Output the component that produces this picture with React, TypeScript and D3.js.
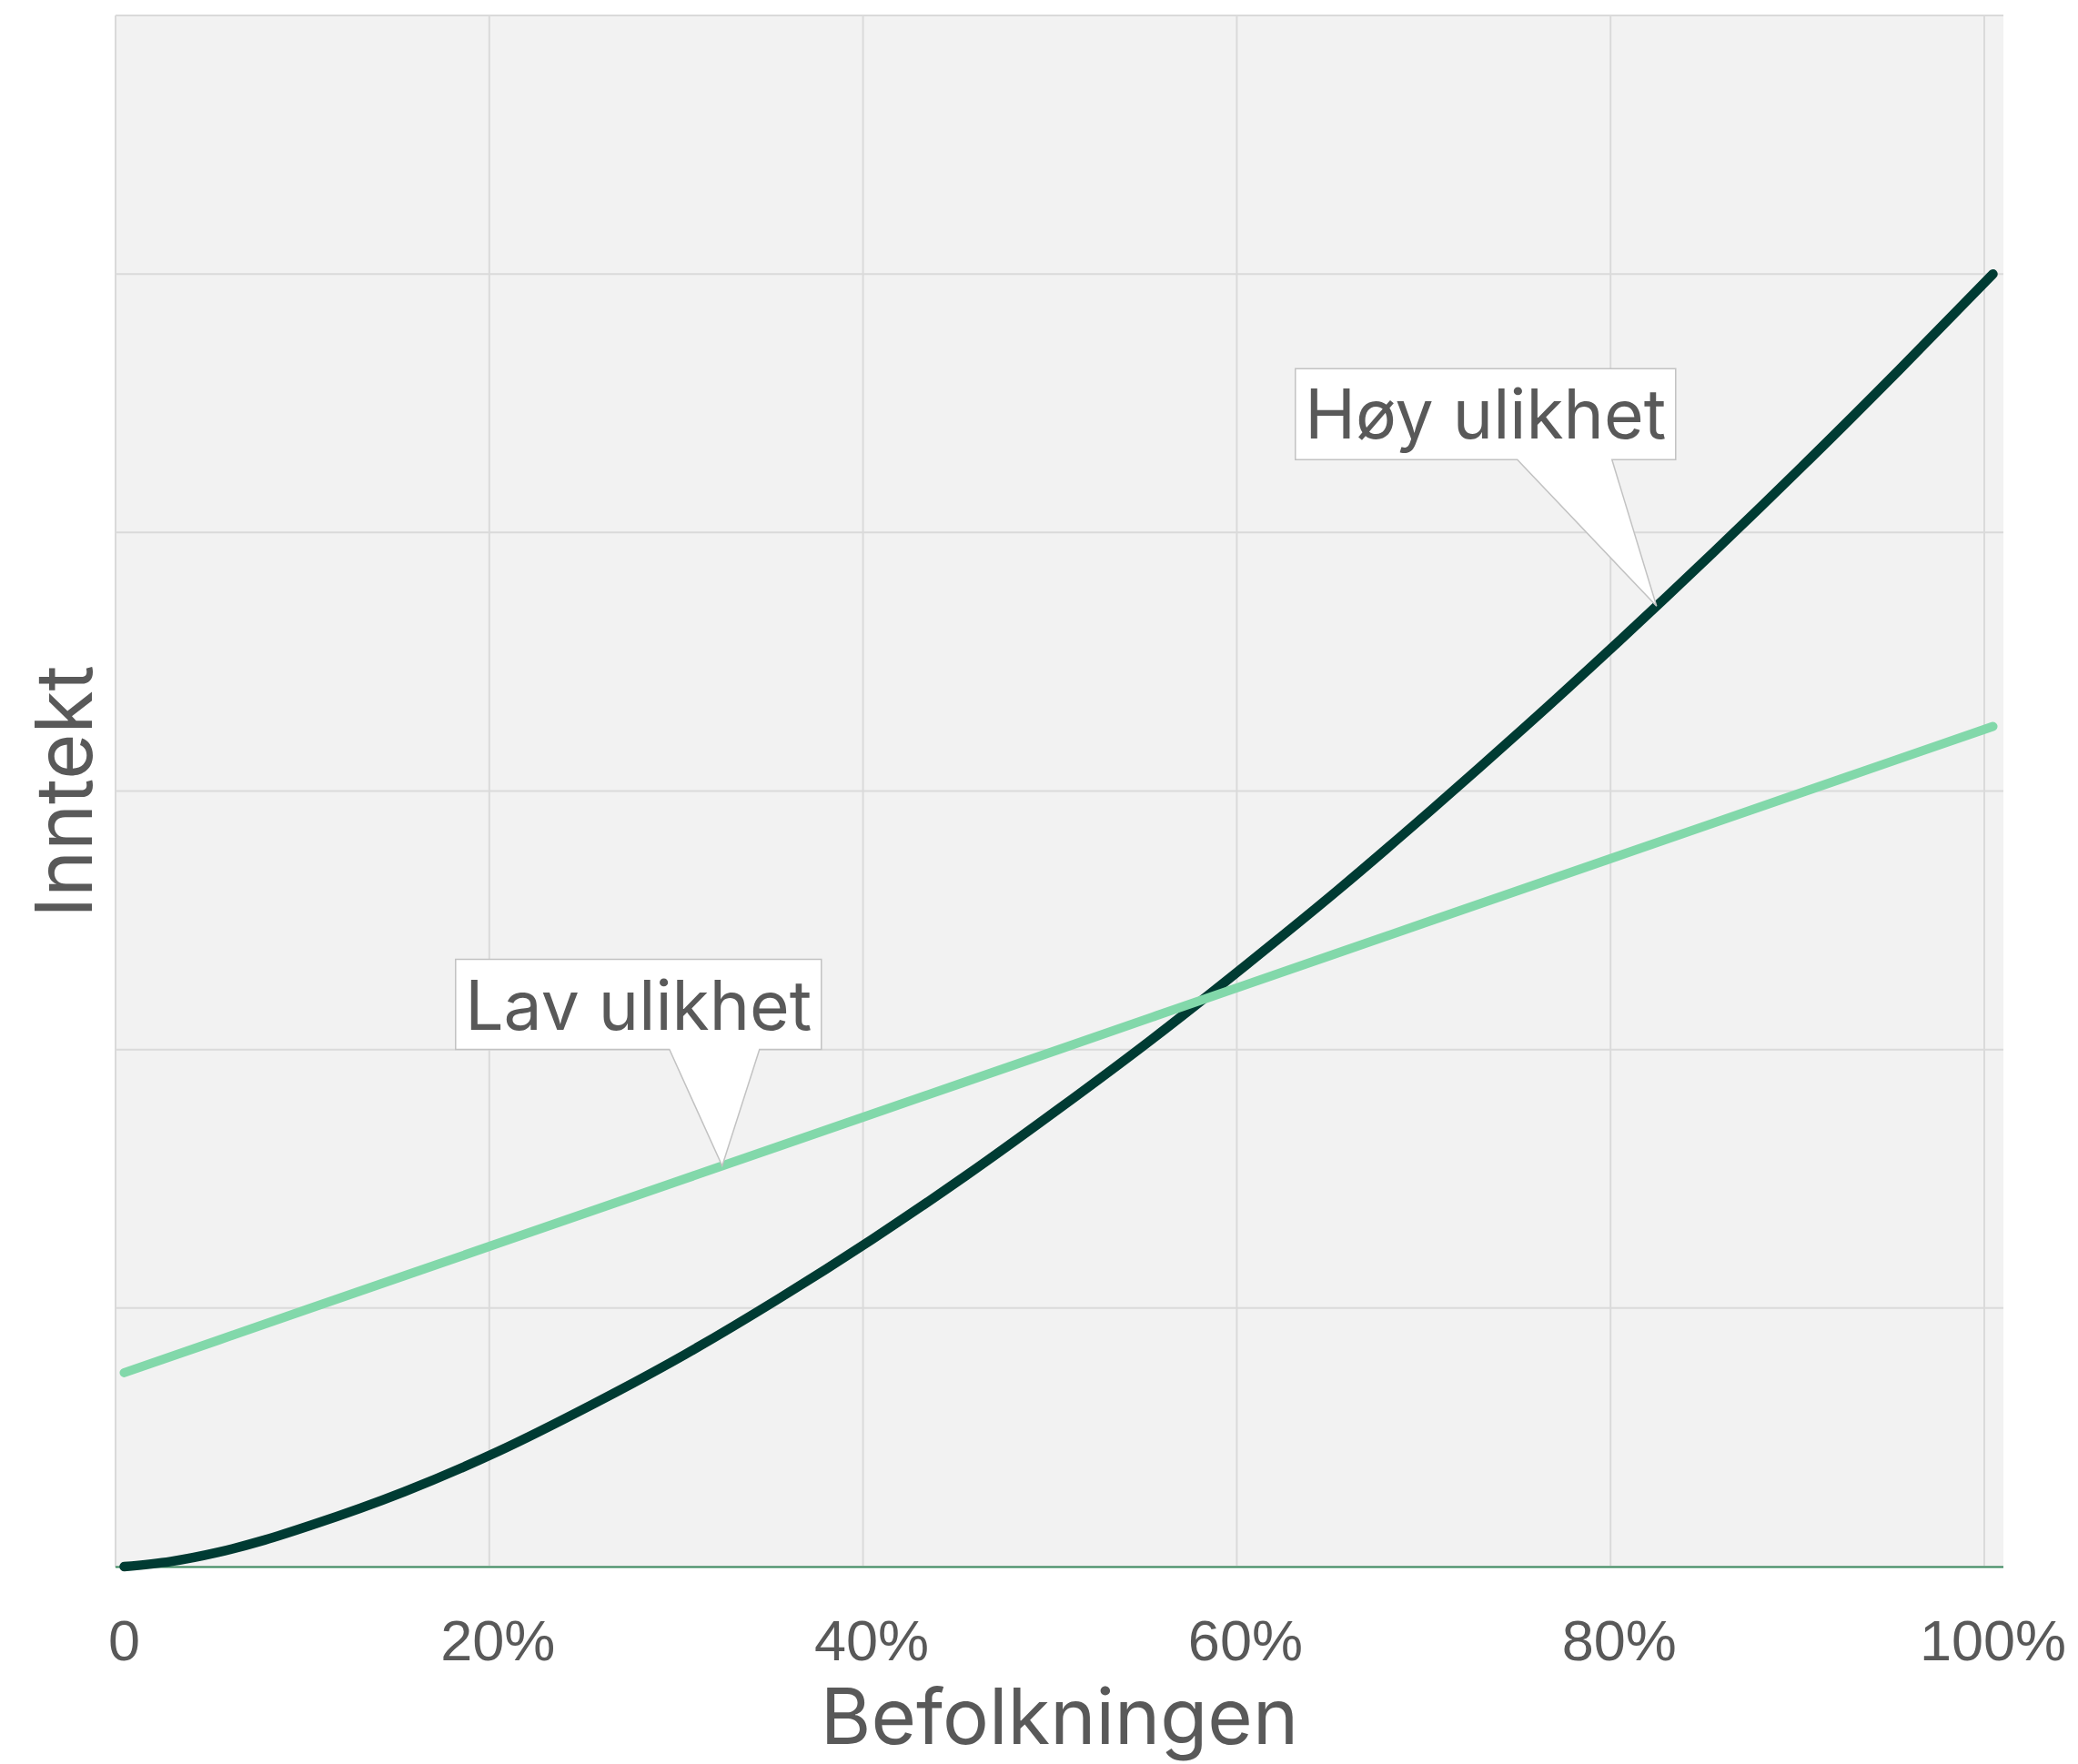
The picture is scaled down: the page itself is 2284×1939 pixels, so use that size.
import React from "react";
import * as d3 from "d3";

// Population share (%) and income values
const populationHigh = [0, 2.5, 5, 7.5, 10, 15, 20, 25, 30, 35, 40, 45, 50, 55, 60, 65, 70, 75, 80, 85, 90, 95, 100];
const incomeHigh = [0, 0.4, 1.1, 2.05, 3.2, 5.8, 8.9, 12.5, 16.4, 20.7, 25.3, 30.2, 35.4, 40.8, 46.5, 52.4, 58.6, 65.0, 71.6, 78.4, 85.4, 92.6, 100];
const populationLow = [0, 10, 20, 30, 40, 50, 60, 70, 80, 90, 100];
const incomeLow = [15, 20, 25, 30, 35, 40, 45, 50, 55, 60, 65];

const xTicks = [0, 20, 40, 60, 80, 100];
const xTickLabels = ["0", "20%", "40%", "60%", "80%", "100%"];
const yTicks = [0, 20, 40, 60, 80, 100, 120];

const annotationLabels = ["Lav ulikhet", "Høy ulikhet"];
const annotationX = [32, 82];
const annotationY = [31, 74.3];

const W = 2284;
const H = 1939;
const plot = { left: 127, right: 2202, top: 17, bottom: 1723 };
const gridRight = 2181;
const dataOffset = 9.5;

const DARK = "#003b33";
const LIGHT = "#82d8aa";
const TEXT = "#595959";
const GRID = "#dadada";

export default function App() {
  const xGrid = d3.scaleLinear().domain([0, 100]).range([plot.left, gridRight]);
  const x = (v: number) => xGrid(v) + dataOffset;
  const y = d3.scaleLinear().domain([0, 120]).range([1722, plot.top]);

  const line = d3
    .line<[number, number]>()
    .x((d) => x(d[0]))
    .y((d) => y(d[1]))
    .curve(d3.curveMonotoneX);

  const highPts: [number, number][] = populationHigh.map((p, i) => [p, incomeHigh[i]]);
  const lowPts: [number, number][] = populationLow.map((p, i) => [p, incomeLow[i]]);

  // Annotation geometry relative to the anchor point
  const ann = [
    { dx: -293, dy: -227, w: 402, h: 99, b1: -58, b2: 41 },
    { dx: -397, dy: -261, w: 418, h: 100, b1: -153, b2: -49 },
  ];

  return (
    <svg
      width={W}
      height={H}
      style={{ position: "absolute", left: 0, top: 0, background: "#ffffff" }}
    >
      <rect
        x={plot.left}
        y={plot.top}
        width={plot.right - plot.left}
        height={plot.bottom - plot.top}
        fill="#f2f2f2"
      />
      {yTicks.map((t) => (
        <line
          key={"gy" + t}
          x1={plot.left}
          x2={plot.right}
          y1={y(t)}
          y2={y(t)}
          stroke={GRID}
          strokeWidth={2}
        />
      ))}
      {xTicks.map((t) => (
        <line
          key={"gx" + t}
          x1={xGrid(t)}
          x2={xGrid(t)}
          y1={plot.top}
          y2={plot.bottom}
          stroke={GRID}
          strokeWidth={2}
        />
      ))}
      <line
        x1={plot.left}
        x2={plot.right}
        y1={1722.5}
        y2={1722.5}
        stroke="#3b8a5e"
        strokeWidth={2}
      />
      <path
        d={line(highPts) || ""}
        fill="none"
        stroke={DARK}
        strokeWidth={10.5}
        strokeLinecap="round"
        strokeLinejoin="round"
      />
      <path
        d={line(lowPts) || ""}
        fill="none"
        stroke={LIGHT}
        strokeWidth={10}
        strokeLinecap="round"
        strokeLinejoin="round"
      />
      {xTicks.map((t, i) => (
        <text
          key={"tx" + t}
          x={x(t)}
          y={1825}
          textAnchor="middle"
          fontFamily="'Liberation Sans', Arial, sans-serif"
          fontSize={63}
          fill={TEXT}
        >
          {xTickLabels[i]}
        </text>
      ))}
      <text
        x={(plot.left + plot.right) / 2}
        y={1917}
        textAnchor="middle"
        fontFamily="Inter, sans-serif"
        fontSize={85}
        fill={TEXT}
      >
        Befolkningen
      </text>
      <text
        transform={`translate(101, ${(plot.top + plot.bottom) / 2}) rotate(-90)`}
        textAnchor="middle"
        fontFamily="Inter, sans-serif"
        fontSize={86}
        fill={TEXT}
      >
        Inntekt
      </text>
      {annotationLabels.map((lab, i) => {
        const tx = x(annotationX[i]);
        const ty = y(annotationY[i]);
        const a = ann[i];
        const left = tx + a.dx;
        const top = ty + a.dy;
        const bottom = top + a.h;
        const right = left + a.w;
        const d = `M${left},${top} L${right},${top} L${right},${bottom} L${tx + a.b2},${bottom} L${tx},${ty} L${tx + a.b1},${bottom} L${left},${bottom} Z`;
        return (
          <g key={lab}>
            <path d={d} fill="#ffffff" stroke="#c2c2c2" strokeWidth={1.5} />
            <text
              x={left + a.w / 2}
              y={top + 77}
              textAnchor="middle"
              fontFamily="Inter, sans-serif"
              fontSize={75}
              fill={TEXT}
            >
              {lab}
            </text>
          </g>
        );
      })}
    </svg>
  );
}
